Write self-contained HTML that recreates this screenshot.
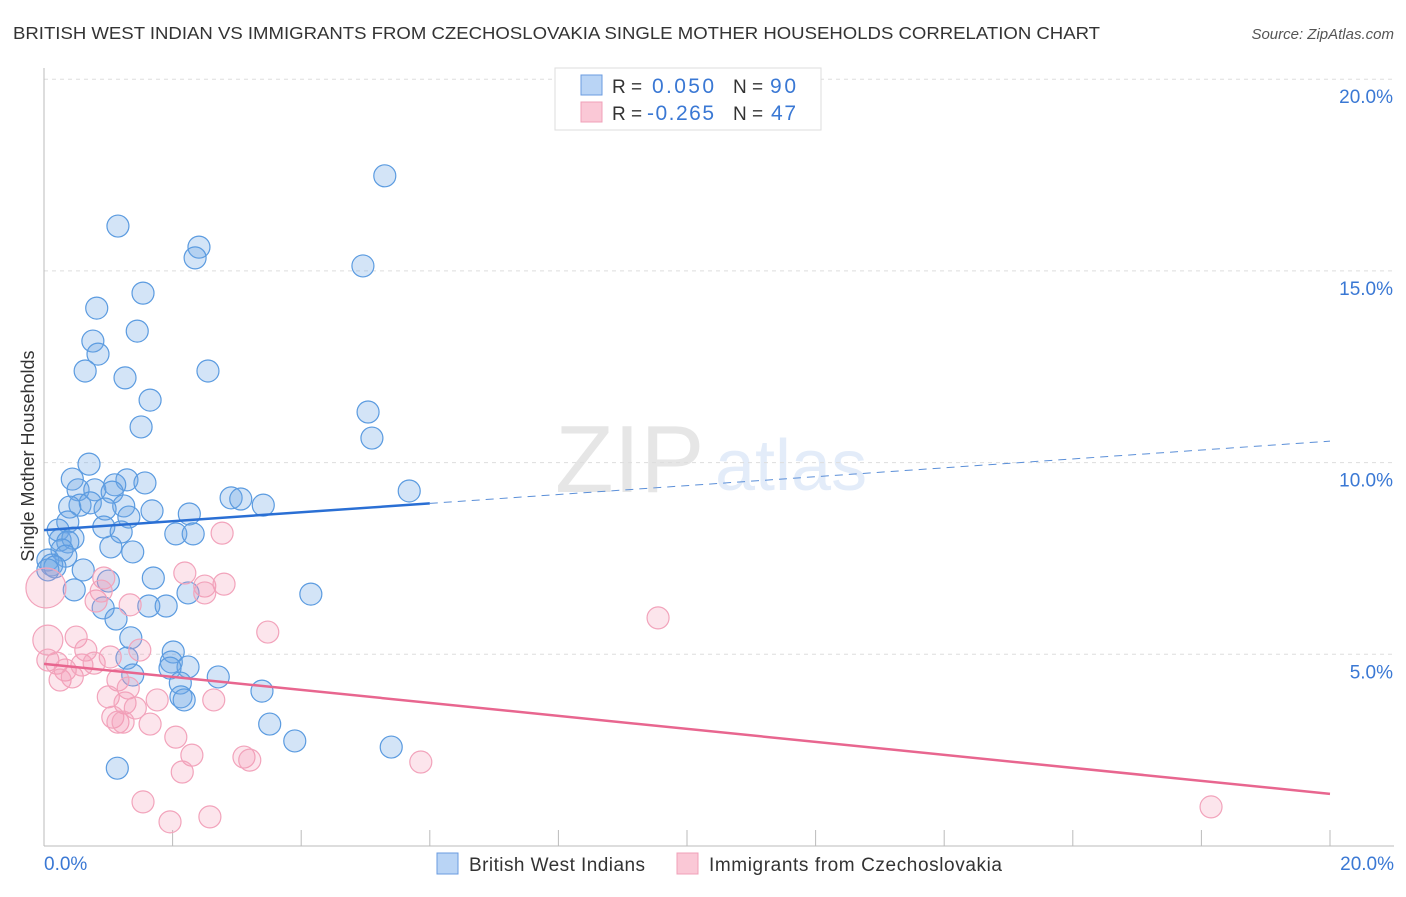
<!DOCTYPE html>
<html><head><meta charset="utf-8"><style>
body{margin:0;background:#fff;font-family:"Liberation Sans",sans-serif;}
svg text{font-family:"Liberation Sans",sans-serif;}
</style></head><body>
<svg id="chart" width="1406" height="892" viewBox="0 0 1406 892" xmlns="http://www.w3.org/2000/svg">
<text x="13" y="39" font-size="17.5" fill="#333" textLength="1087" lengthAdjust="spacingAndGlyphs">BRITISH WEST INDIAN VS IMMIGRANTS FROM CZECHOSLOVAKIA SINGLE MOTHER HOUSEHOLDS CORRELATION CHART</text>
<text x="1394" y="39" font-size="15" fill="#555" text-anchor="end" font-style="italic">Source: ZipAtlas.com</text>
<text transform="translate(34,456) rotate(-90)" font-size="18" fill="#333" text-anchor="middle">Single Mother Households</text>
<g opacity="0.18"><text x="555" y="492" font-size="96" font-family="Liberation Serif" fill="#777">ZIP</text><text x="715" y="490" font-size="72" fill="#6a9be0">atlas</text></g>
<g id="grid"></g>
<g id="axes"></g>
<g id="pts-blue"></g>
<g id="pts-pink"></g>
<g id="trends"></g>
<g>
<rect x="555" y="68" width="266" height="62" fill="#fff" stroke="#ddd"/>
<rect x="581" y="75" width="21" height="20" fill="#b9d4f5" stroke="#6a9be0"/>
<rect x="581" y="102" width="21" height="20" fill="#fac8d6" stroke="#f0a0b8"/>
<text x="612" y="93" font-size="19" fill="#333">R = </text><text x="652" y="93" font-size="21" fill="#3a78d4" textLength="62">0.050</text>
<text x="733" y="93" font-size="19" fill="#333">N = </text><text x="770" y="93" font-size="21" fill="#3a78d4" textLength="26">90</text>
<text x="612" y="120" font-size="19" fill="#333">R = </text><text x="647" y="120" font-size="21" fill="#3a78d4" textLength="67">-0.265</text>
<text x="733" y="120" font-size="19" fill="#333">N = </text><text x="771" y="120" font-size="21" fill="#3a78d4" textLength="25">47</text>
</g>
<g>
<rect x="437" y="853" width="21" height="21" fill="#b9d4f5" stroke="#6a9be0"/>
<text x="469" y="871" font-size="19" fill="#333" textLength="176">British West Indians</text>
<rect x="677" y="853" width="21" height="21" fill="#fac8d6" stroke="#f0a0b8"/>
<text x="709" y="871" font-size="19" fill="#333" textLength="293">Immigrants from Czechoslovakia</text>
</g>
</svg>
<script>
const xTicks=[0,2,4,6,8,10,12,14,16,18,20];
const yTicks=[5,10,15,20];
const blueX=[5.30,1.15,2.41,2.35,4.96,1.54,0.82,1.45,0.76,0.84,0.64,2.55,1.26,1.65,5.04,1.51,5.10,0.70,0.44,1.29,1.57,1.10,0.53,0.79,1.06,2.91,3.06,5.68,3.41,0.56,0.40,0.72,1.24,0.95,1.68,1.32,2.26,0.37,0.93,0.22,1.20,2.05,2.32,0.25,0.45,0.37,1.04,0.28,1.38,0.34,0.06,0.12,0.17,0.06,0.61,1.70,1.00,0.47,4.15,2.24,1.63,1.90,0.92,1.12,1.35,2.01,1.98,1.29,2.24,1.96,2.71,1.38,2.12,3.39,2.13,2.18,3.51,3.90,5.40,1.14];
const blueY=[17.48,16.17,15.62,15.34,15.13,14.42,14.03,13.43,13.17,12.83,12.39,12.39,12.21,11.63,11.32,10.93,10.64,9.96,9.57,9.55,9.47,9.42,9.29,9.29,9.23,9.08,9.05,9.26,8.89,8.89,8.84,8.95,8.87,8.79,8.74,8.58,8.66,8.45,8.32,8.24,8.19,8.14,8.14,7.98,8.03,7.93,7.80,7.72,7.67,7.56,7.46,7.33,7.28,7.20,7.20,6.99,6.91,6.68,6.57,6.60,6.26,6.26,6.21,5.92,5.43,5.06,4.80,4.90,4.67,4.64,4.41,4.46,4.25,4.04,3.89,3.81,3.18,2.74,2.58,2.03];
const pinkX=[0.03,0.06,0.06,0.20,0.50,0.65,0.33,0.25,0.44,0.59,0.78,1.03,0.93,0.81,0.89,1.34,2.77,2.19,2.50,2.80,2.50,3.48,9.55,1.49,1.15,1.31,1.00,1.26,1.76,2.64,1.07,1.15,1.42,1.65,2.05,2.30,2.15,3.11,3.20,5.86,1.54,1.96,2.58,18.15,1.23];
const pinkY=[6.73,5.37,4.85,4.77,5.45,5.11,4.59,4.33,4.41,4.72,4.77,4.93,6.99,6.39,6.65,6.29,8.16,7.12,6.78,6.83,6.60,5.58,5.95,5.11,4.33,4.12,3.89,3.73,3.81,3.81,3.36,3.23,3.60,3.18,2.84,2.37,1.93,2.32,2.24,2.19,1.15,0.63,0.76,1.02,3.23];
const pinkR=[20,15];
const blueTrend=[8.24,10.56];
const pinkTrend=[4.75,1.36];
const blueSolidEnd=6;
const X=v=>44+v/20*1286, Y=v=>846-v/5*191.7;
const NS='http://www.w3.org/2000/svg';
function mk(t,a,p){const e=document.createElementNS(NS,t);for(const k in a)e.setAttribute(k,a[k]);p.appendChild(e);return e;}
const grid=document.getElementById('grid'),axes=document.getElementById('axes');
yTicks.forEach(t=>{
 const l=mk('line',{x1:44,x2:1394,y1:Y(t),y2:Y(t),stroke:'#ddd','stroke-dasharray':'4,4'},grid);
 
 
 const tx=mk('text',{x:1393,y:Y(t)+24,'font-size':19,fill:'#3a78d4','text-anchor':'end'},axes);
 tx.textContent=t.toFixed(1)+'%';
 
 
});
mk('line',{x1:44,x2:44,y1:68,y2:846,stroke:'#bbb'},axes);
mk('line',{x1:44,x2:1394,y1:846,y2:846,stroke:'#bbb'},axes);
xTicks.forEach(t=>{
 const l=mk('line',{x1:X(t),x2:X(t),y1:830,y2:846,stroke:'#bbb'},axes);
 
 
});
[[0,'start',44],[20,'end',1394]].forEach(([v,a,x])=>{
 const tx=mk('text',{x:x,y:870,'font-size':19,fill:'#3a78d4','text-anchor':a},axes);
 tx.textContent=v.toFixed(1)+'%';
 
 
});
const gb=document.getElementById('pts-blue');
blueX.forEach((v,i)=>{
 const c=mk('circle',{cx:X(v),cy:Y(blueY[i]),r:11,fill:'rgba(110,165,230,0.3)',stroke:'#5b9be0','stroke-width':1.2},gb);
 
 
});
const gp=document.getElementById('pts-pink');
pinkX.forEach((v,i)=>{
 const c=mk('circle',{cx:X(v),cy:Y(pinkY[i]),r:pinkR[i]||11,fill:'rgba(245,150,180,0.25)',stroke:'#f2a3bb','stroke-width':1.2},gp);
 
 
});
const tr=document.getElementById('trends');
const bAt=v=>blueTrend[0]+(blueTrend[1]-blueTrend[0])*v/20;
let l1=mk('line',{x1:X(0),y1:Y(blueTrend[0]),x2:X(blueSolidEnd),y2:Y(bAt(blueSolidEnd)),stroke:'#2a6fd4','stroke-width':2.5},tr);


let l2=mk('line',{x1:X(blueSolidEnd),y1:Y(bAt(blueSolidEnd)),x2:X(20),y2:Y(blueTrend[1]),stroke:'#5b8fd8','stroke-width':1,'stroke-dasharray':'8,6'},tr);


let l3=mk('line',{x1:X(0),y1:Y(pinkTrend[0]),x2:X(20),y2:Y(pinkTrend[1]),stroke:'#e8668f','stroke-width':2.5},tr);


</script>
</body></html>
